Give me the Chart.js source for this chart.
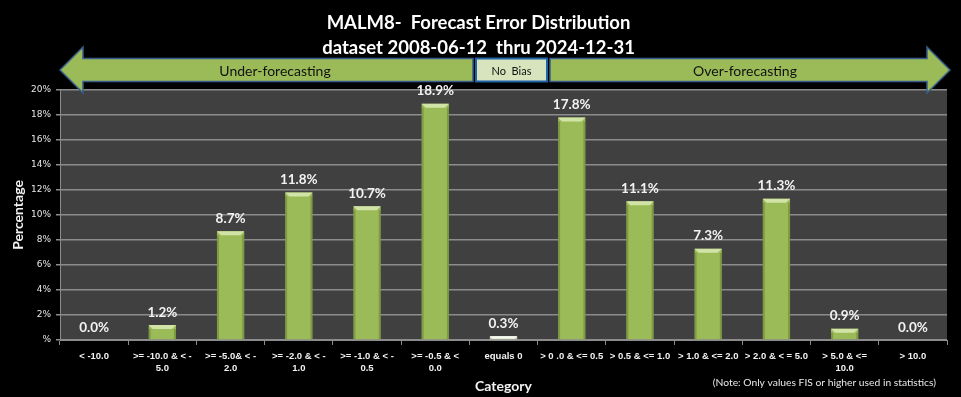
<!DOCTYPE html>
<html>
<head>
<meta charset="utf-8">
<script src="https://cdn.jsdelivr.net/npm/chart.js@4"></script>
<style>
  html, body { margin: 0; padding: 0; background: #000; }
  #wrap { width: 961px; height: 397px; }
</style>
</head>
<body>
<div id="wrap"><canvas id="errChart" width="961" height="397"></canvas></div>
<script>
// data
const categories = [
    '< -10.0',
    ['>= -10.0 & < -', '5.0'],
    ['>= -5.0& < -', '2.0'],
    ['>= -2.0 & < -', '1.0'],
    ['>= -1.0 & < -', '0.5'],
    ['>= -0.5 & <', '0.0'],
    'equals 0',
    '> 0 .0 & <= 0.5',
    '> 0.5 & <= 1.0',
    '> 1.0 & <= 2.0',
    '> 2.0 & < = 5.0',
    ['> 5.0 & <=', '10.0'],
    '> 10.0'
];
const percentages = [0.0, 1.2, 8.7, 11.8, 10.7, 18.9, 0.3, 17.8, 11.1, 7.3, 11.3, 0.9, 0.0];
const barColors = ['#9BBB59', '#9BBB59', '#9BBB59', '#9BBB59', '#9BBB59', '#9BBB59', '#E4ECD2',
                   '#9BBB59', '#9BBB59', '#9BBB59', '#9BBB59', '#9BBB59', '#9BBB59'];
const titleLines = ['MALM8-  Forecast Error Distribution', 'dataset 2008-06-12  thru 2024-12-31'];
const noteText = '(Note: Only values FIS or higher used in statistics)';

// plot area background
const plotBg = {
    id: 'plotBg',
    beforeDraw(chart) {
        const { ctx, chartArea: a } = chart;
        ctx.save();
        ctx.fillStyle = '#404040';
        ctx.fillRect(a.left, a.top, a.right - a.left, a.bottom - a.top);
        ctx.restore();
    }
};

// bevel highlight + value labels on top of bars
const barDecor = {
    id: 'barDecor',
    afterDatasetsDraw(chart) {
        const ctx = chart.ctx;
        const meta = chart.getDatasetMeta(0);
        ctx.save();
        meta.data.forEach((bar, i) => {
            const w = bar.width, x0 = bar.x - w / 2, x1 = bar.x + w / 2;
            const h = bar.base - bar.y;
            if (h > 2) {
                const light = i === 6 ? '#FFFFFF' : '#D2E3A8';
                const b = Math.min(4, h / 2);
                ctx.fillStyle = light;
                ctx.beginPath();
                ctx.moveTo(x0, bar.y);
                ctx.lineTo(x1, bar.y);
                ctx.lineTo(x1 - b, bar.y + b);
                ctx.lineTo(x0 + b, bar.y + b);
                ctx.closePath();
                ctx.fill();
                ctx.fillStyle = i === 6 ? 'rgba(150,170,110,0.5)' : 'rgba(90,115,40,0.45)';
                ctx.fillRect(x0, bar.y + b, 2, h - b);
                ctx.fillRect(x1 - 2, bar.y + b, 2, h - b);
            }
            ctx.fillStyle = '#F2F2F2';
            ctx.font = 'bold 13.5px Lato';
            ctx.textAlign = 'center';
            ctx.textBaseline = 'bottom';
            ctx.fillText(percentages[i].toFixed(1) + '%', bar.x, bar.y - 6);
        });
        ctx.restore();
    }
};

// bias arrows above the plot + footnote
const biasArrows = {
    id: 'biasArrows',
    afterDraw(chart) {
        const { ctx, chartArea: a } = chart;
        const cy = 70, bodyH = 11.5, headH = 23, headW = 23;
        const boxL = a.left + 416, boxR = a.left + 487;
        ctx.save();
        ctx.lineWidth = 1.5;
        ctx.strokeStyle = '#385D8A';
        ctx.fillStyle = '#9BBB59';
        // left arrow
        ctx.beginPath();
        ctx.moveTo(a.left, cy);
        ctx.lineTo(a.left + headW, cy - headH);
        ctx.lineTo(a.left + headW, cy - bodyH);
        ctx.lineTo(boxL - 3, cy - bodyH);
        ctx.lineTo(boxL - 3, cy + bodyH);
        ctx.lineTo(a.left + headW, cy + bodyH);
        ctx.lineTo(a.left + headW, cy + headH);
        ctx.closePath();
        ctx.fill();
        ctx.stroke();
        // right arrow
        const tip = a.right + 3;
        ctx.beginPath();
        ctx.moveTo(tip, cy);
        ctx.lineTo(tip - headW, cy - headH);
        ctx.lineTo(tip - headW, cy - bodyH);
        ctx.lineTo(boxR + 3, cy - bodyH);
        ctx.lineTo(boxR + 3, cy + bodyH);
        ctx.lineTo(tip - headW, cy + bodyH);
        ctx.lineTo(tip - headW, cy + headH);
        ctx.closePath();
        ctx.fill();
        ctx.stroke();
        // no bias box
        ctx.fillStyle = '#D7E4BD';
        ctx.strokeStyle = '#1F64A8';
        ctx.lineWidth = 2;
        ctx.fillRect(boxL, cy - bodyH, boxR - boxL, bodyH * 2);
        ctx.strokeRect(boxL, cy - bodyH, boxR - boxL, bodyH * 2);

        ctx.fillStyle = '#111';
        ctx.textAlign = 'center';
        ctx.textBaseline = 'middle';
        ctx.font = '14px Lato';
        ctx.fillText('Under-forecasting', 275, cy + 1);
        ctx.fillText('Over-forecasting', 745, cy + 1);
        ctx.font = '11px Lato';
        ctx.fillText('No  Bias', (boxL + boxR) / 2, cy + 1);

        // footnote
        ctx.fillStyle = '#E8E8E8';
        ctx.font = '10.3px Lato';
        ctx.textAlign = 'right';
        ctx.fillText(noteText, 936, 383);
        ctx.restore();
    }
};

const ctx = document.getElementById('errChart').getContext('2d');
new Chart(ctx, {
    type: 'bar',
    data: {
        labels: categories,
        datasets: [{
            label: 'Percentage',
            data: percentages,
            backgroundColor: barColors,
            borderWidth: 0,
            barPercentage: 0.4,
            categoryPercentage: 1.0
        }]
    },
    options: {
        responsive: false,
        animation: false,
        layout: { padding: { left: 10, right: 14, top: 0, bottom: 0 } },
        scales: {
            x: {
                offset: true,
                grid: {
                    offset: true,
                    drawOnChartArea: false,
                    color: '#8C8C8C',
                    tickLength: 5
                },
                border: { color: '#8C8C8C' },
                ticks: {
                    color: '#F2F2F2',
                    font: { family: 'Liberation Sans', size: 9.5, weight: 'bold' },
                    maxRotation: 0,
                    autoSkip: false,
                    padding: 6
                },
                title: {
                    display: true,
                    text: 'Category',
                    color: '#F2F2F2',
                    font: { family: 'Lato', size: 14, weight: 'bold' },
                    padding: { top: 0, bottom: 2 }
                },
                afterFit(scale) { scale.height = 57; }
            },
            y: {
                min: 0,
                max: 20,
                ticks: {
                    stepSize: 2,
                    color: '#E6E6E6',
                    font: { family: 'DejaVu Sans', size: 9 },
                    padding: 5,
                    callback: v => v === 0 ? '%' : v + '%'
                },
                grid: {
                    color: '#8C8C8C',
                    lineWidth: 1.5,
                    tickLength: 4
                },
                border: { color: '#8C8C8C' },
                title: {
                    display: true,
                    text: 'Percentage',
                    color: '#F2F2F2',
                    font: { family: 'Lato', size: 14, weight: 'bold' },
                    padding: { top: 0, bottom: 4 }
                },
                afterFit(scale) { scale.width = 50; }
            }
        },
        plugins: {
            legend: { display: false },
            tooltip: { enabled: false },
            title: {
                display: true,
                text: titleLines,
                color: '#FFFFFF',
                font: { family: 'Lato', size: 18.5, weight: 'bold', lineHeight: 1.35 },
                padding: { top: 11, bottom: 29 }
            }
        }
    },
    plugins: [plotBg, barDecor, biasArrows]
});
</script>
</body>
</html>
